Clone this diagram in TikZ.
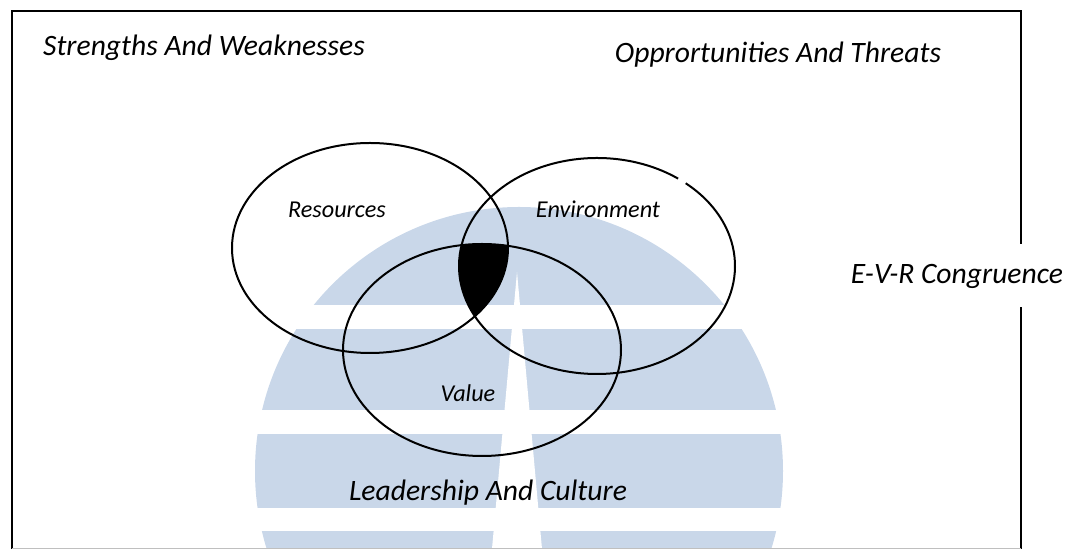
\documentclass[tikz,border=0pt]{standalone}
\usepackage{fontspec}
\setmainfont{Carlito}
\definecolor{logoblue}{RGB}{201,215,233}
\begin{document}
\begin{tikzpicture}[x=0.5pt,y=-0.5pt,
    venn/.style={line width=1pt},
    bigtext/.style={font=\fontsize{14.8}{16}\selectfont\itshape},
    smalltext/.style={font=\fontsize{12.1}{13}\selectfont\itshape}]
    \useasboundingbox (0,0) rectangle (1067,549);

    % logo in the background
    \fill[logoblue] (519,471) circle (264);
    \fill[white] (250,305) rectangle (790,329);
    \fill[white] (250,410) rectangle (790,434);
    \fill[white] (250,508) rectangle (790,531);
    \fill[white] (517,272) -- (543,560) -- (491,560) -- cycle;

    % frame
    \draw[line width=1pt] (12,549) -- (12,11) -- (1021,11) -- (1021,549);
    \draw[gray!50] (12,548) -- (1021,548);

    % where all three overlap
    \begin{scope}
        \clip (370,248) ellipse (138 and 105);
        \clip (597,266) ellipse (138 and 108);
        \fill (482,350) ellipse (139 and 106);
    \end{scope}

    \draw[venn] (370,248) ellipse (138 and 105);
    \draw[venn] (597,266) ++(-50:138 and 108) arc (-50:306:138 and 108);
    \draw[venn] (482,350) ellipse (139 and 106);

    \node[smalltext] (res) at (337,210) {Resources};
    \node[smalltext] (env) at (598,209) {Environment};
    \node[smalltext] (val) at (468,393) {Value};

    \node[bigtext] (sw) at (204,48) {Strengths And Weaknesses};
    \node[bigtext] (ot) at (778,55) {Opprortunities And Threats};
    \node[bigtext, fill=white, minimum height=31.5pt] (evr) at (957,276) {E-V-R Congruence};
    \node[bigtext] (lc) at (488,493) {Leadership And Culture};
\end{tikzpicture}
\end{document}
